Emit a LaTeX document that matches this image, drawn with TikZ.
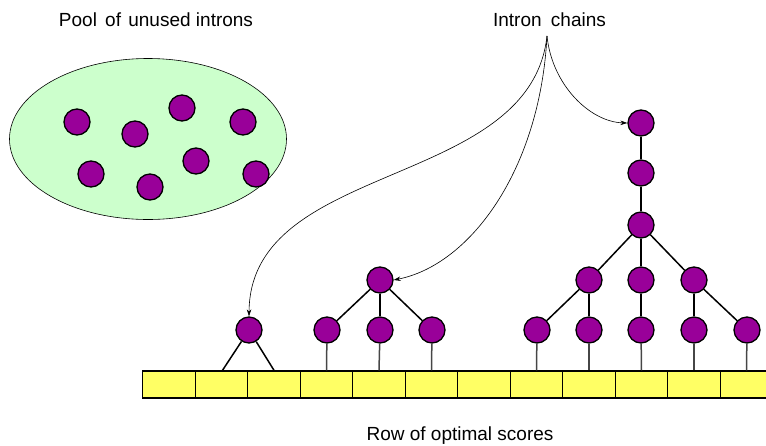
\documentclass[tikz,border=0pt]{standalone}
\usepackage{fontspec}
\setmainfont{Liberation Sans}
\usetikzlibrary{arrows.meta, positioning, shapes.geometric}
\definecolor{intronfill}{RGB}{153,0,153}
\definecolor{poolfill}{RGB}{204,255,204}
\definecolor{scorefill}{RGB}{255,255,100}
\definecolor{stemgray}{RGB}{70,70,70}

\begin{document}
\begin{tikzpicture}[
    x=1pt, y=-1pt,
    intron/.style={circle,draw,line width=1.3pt,fill=intronfill,minimum size=26pt,inner sep=0pt},
    score/.style={draw,line width=1.4pt,fill=scorefill,minimum width=52.5pt,minimum height=27pt,inner sep=0pt},
    title/.style={font=\fontsize{19}{22}\selectfont,inner sep=0pt,anchor=base},
    branch/.style={line width=1.5pt},
    stem/.style={line width=1.5pt,draw=stemgray},
    pointer/.style={line width=0.6pt,-{Stealth[length=7pt,width=4.5pt]}}
  ]
    \clip (0,0) rectangle (766,445);

    % pool of unused introns
    \node[title] (pooltitle) at (156,26.5) {Pool\hspace{3pt} of\hspace{2pt} unused introns};
    \node[ellipse,draw,fill=poolfill,line width=0.6pt,minimum width=277pt,minimum height=161pt] (pool) at (148,139) {};
    \node[intron] (p1) at (77,122) {};
    \node[intron] (p2) at (135,134) {};
    \node[intron] (p3) at (182,108) {};
    \node[intron] (p4) at (243,122) {};
    \node[intron] (p5) at (91,174) {};
    \node[intron] (p6) at (150,187) {};
    \node[intron] (p7) at (196,161) {};
    \node[intron] (p8) at (256,174) {};

    % row of optimal scores
    \foreach \i in {0,...,11}
      \node[score] (s\i) at ({169+52.5*\i},384.5) {};
    \node[title] (rowtitle) at (460,440) {Row of optimal scores};

    % chain 1
    \node[intron] (a) at (249,330) {};
    \draw[branch] (a) -- ([xshift=1pt]s1.north);
    \draw[branch] (a) -- (s2.north);

    % chain 2
    \node[intron] (b) at (380,280) {};
    \node[intron] (b1) at (327,330) {};
    \node[intron] (b2) at (380,330) {};
    \node[intron] (b3) at (432,330) {};
    \foreach \n in {b1,b2,b3}
      \draw[branch] (b) -- (\n);
    \draw[stem] (b1) -- (s3.north);
    \draw[stem] (b2) -- (s4.north);
    \draw[stem] (b3) -- (s5.north);

    % chain 3
    \node[intron] (c) at (641,123) {};
    \node[intron] (c1) at (641,173) {};
    \node[intron] (c2) at (641,225) {};
    \node[intron] (c3) at (589,280) {};
    \node[intron] (c4) at (641,280) {};
    \node[intron] (c5) at (694,280) {};
    \node[intron] (c6) at (537,330) {};
    \node[intron] (c7) at (589,330) {};
    \node[intron] (c8) at (641,330) {};
    \node[intron] (c9) at (694,330) {};
    \node[intron] (c10) at (747,330) {};
    \draw[branch] (c) -- (c1) -- (c2);
    \foreach \n in {c3,c4,c5}
      \draw[branch] (c2) -- (\n);
    \draw[branch] (c3) -- (c6);
    \draw[branch] (c3) -- (c7);
    \draw[branch] (c4) -- (c8);
    \draw[branch] (c5) -- (c9);
    \draw[branch] (c5) -- (c10);
    \draw[stem] (c6) -- (s7.north);
    \draw[stem] (c7) -- (s8.north);
    \draw[stem] (c8) -- (s9.north);
    \draw[stem] (c9) -- (s10.north);
    \draw[stem] (c10) -- (s11.north);

    % intron chains pointers
    \node[title] (chaintitle) at (549.5,26) {Intron\hspace{4pt} chains};
    \coordinate (src) at (547,36);
    \draw[pointer] (src) .. controls (552,85) and (590,122) .. (c.west);
    \draw[pointer] (src) .. controls (540,170) and (470,265) .. (b.east);
    \draw[pointer] (src) .. controls (530,190) and (250,160) .. (a.north);
\end{tikzpicture}
\end{document}
